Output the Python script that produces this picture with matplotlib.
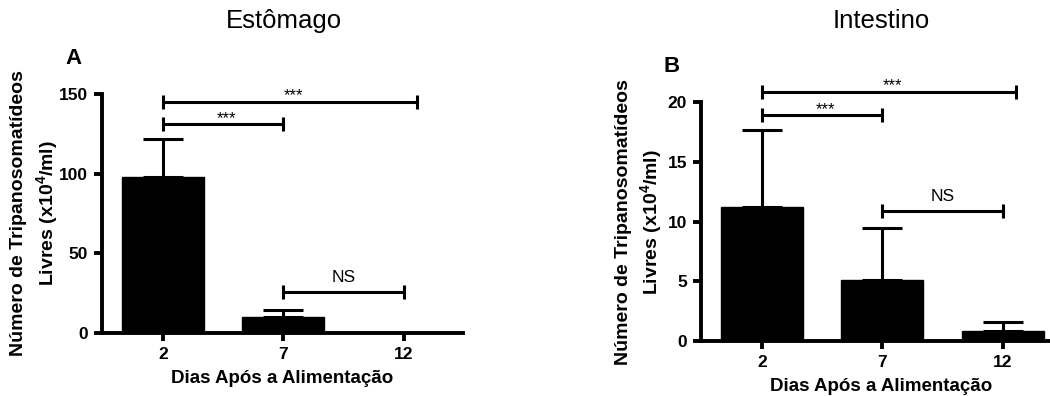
import matplotlib
matplotlib.use("Agg")
import matplotlib.pyplot as plt

plt.rcParams['font.family'] = ['Liberation Sans', 'DejaVu Sans']
plt.rcParams['mathtext.fontset'] = 'custom'
plt.rcParams['mathtext.rm'] = 'Liberation Sans:bold'
plt.rcParams['mathtext.bf'] = 'Liberation Sans:bold'
plt.rcParams['mathtext.default'] = 'bf'

# data
dias = ['2', '7', '12']
estomago_media = [97.7, 10.2, 0.0]
estomago_erro = [24.1, 4.2, 0.0]
intestino_media = [11.2, 5.1, 0.87]
intestino_erro = [6.45, 4.35, 0.75]

# significance brackets: (from, to, height, label)
estomago_sig = [(0, 2.11, 145, '***'), (0, 1, 131, '***'), (1, 2, 25.5, 'NS')]
intestino_sig = [(0, 2.105, 20.9, '***'), (0, 1, 18.9, '***'), (1, 2, 10.9, 'NS')]

fig = plt.figure(figsize=(10.5, 3.96), dpi=100)


def painel(rect, media, erro, sig, ymax, yticks, titulo, letra, titulo_pos, letra_pos):
    ax = fig.add_axes(rect)
    x = list(range(len(dias)))
    ax.bar(x, media, width=0.68, color='black', edgecolor='black')
    ax.errorbar(x, media, yerr=[[0] * len(erro), erro], fmt='none',
                ecolor='black', elinewidth=2.2, capsize=14.5, capthick=2.2)
    ax.set_xlim(-0.505, 2.49)
    ax.set_ylim(0, ymax)
    ax.set_yticks(yticks)
    ax.set_xticks(x)
    ax.set_xticklabels(dias)
    for s in ['top', 'right']:
        ax.spines[s].set_visible(False)
    for s in ['left', 'bottom']:
        ax.spines[s].set_linewidth(2.8)
    ax.tick_params(width=2.8, length=6, labelsize=12.5, pad=4)
    for lab in ax.get_xticklabels() + ax.get_yticklabels():
        lab.set_fontweight('bold')

    for x1, x2, y, txt in sig:
        ax.plot([x1, x2], [y, y], color='black', lw=2.2, clip_on=False,
                solid_capstyle='butt')
        ax.plot([x1, x2], [y, y], ls='none', marker='|', ms=10, mew=2.2,
                color='black', clip_on=False)
        if txt == 'NS':
            ax.annotate(txt, ((x1 + x2) / 2, y), xytext=(0, 5),
                        textcoords='offset points', ha='center', va='bottom',
                        fontsize=12.5, annotation_clip=False)
        else:
            ax.annotate(txt, ((x1 + x2) / 2 + 0.03, y), xytext=(0, -1),
                        textcoords='offset points', ha='center', va='bottom',
                        fontsize=12, annotation_clip=False)

    ax.text(-0.185 if letra == 'A' else -0.17, 0.5,
            'Número de Tripanosomatídeos\nLivres (x10$^{4}$/ml)',
            transform=ax.transAxes, rotation=90, ha='center', va='center',
            fontsize=14, fontweight='bold', multialignment='center',
            linespacing=1.35)
    ax.text(0.5, -0.19, 'Dias Após a Alimentação', transform=ax.transAxes,
            ha='center', va='center', fontsize=13.5, fontweight='bold')
    fig.text(titulo_pos[0] / 1050, 1 - titulo_pos[1] / 396, titulo,
             ha='center', va='center', fontsize=18.5)
    fig.text(letra_pos[0] / 1050, 1 - letra_pos[1] / 396, letra,
             ha='center', va='center', fontsize=16, fontweight='bold')
    return ax


axA = painel([0.0971, 0.159, 0.3438, 0.6035], estomago_media, estomago_erro,
             estomago_sig, 150, [0, 50, 100, 150], 'Estômago', 'A',
             (284, 21), (73, 59))
axB = painel([0.6676, 0.1389, 0.3438, 0.6028], intestino_media, intestino_erro,
             intestino_sig, 20, [0, 5, 10, 15, 20], 'Intestino', 'B',
             (881, 21), (672, 66))

fig.savefig('out.png', dpi=100)
